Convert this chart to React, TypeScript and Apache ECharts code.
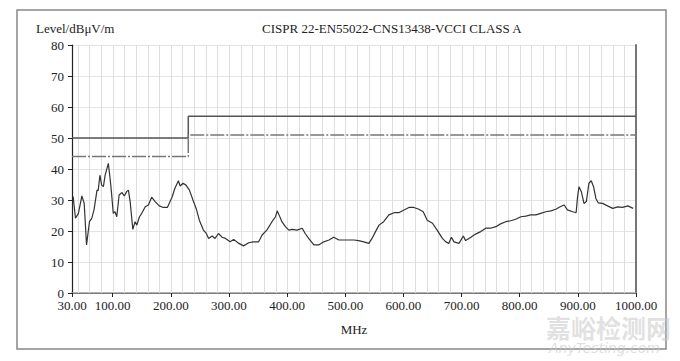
import React, { useEffect, useRef } from "react";
import * as echarts from "echarts";

const freqs = [
  32, 36, 41, 47, 51, 55, 60, 64, 68, 73, 75, 78, 81, 84, 87, 92.5, 95.5, 98, 101, 104, 107, 111, 116, 120, 124, 127, 130,
  134.6, 138.5, 141.5, 146, 150, 156, 161.5, 167, 173, 180, 187, 194, 202, 207, 213, 216, 221, 226, 232, 238, 244, 249,
  256, 261, 265, 271, 276, 282, 288, 294, 302, 308, 317, 325, 334, 342, 351, 357, 365, 374, 380, 383, 387, 391, 397,
  403, 408.5, 417, 426, 431, 437, 446, 454, 463, 472, 480, 489, 497, 506, 515, 523, 532, 540.5, 546, 552, 558, 566, 575,
  584, 592, 601, 609.5, 618, 626.6, 634, 641, 650, 658, 667, 673, 678, 682.5, 687, 695.6, 703, 707, 716, 724, 733, 741.6,
  750, 759, 767, 776, 784.6, 793, 802, 810.5, 819, 827.7, 836, 845, 853.6, 862, 869.6, 876.5, 882, 891, 897, 899.5, 902,
  906, 910.5, 914.6, 919, 923, 927, 931, 935, 942.5, 951, 960, 968.5, 977, 986, 995,
];
const levels = [
  31.1, 24.1, 25.7, 31.3, 28.9, 15.5, 23, 24.1, 27, 33.2, 33, 38, 34.8, 34.3, 38, 41.8, 37, 32.2, 25.7, 26.2, 24.6, 31.6,
  32.4, 31.3, 32.7, 33.2, 29.5, 20.5, 23, 21.9, 24.6, 25.7, 27.8, 28.4, 30.9, 29.5, 28.1, 27.6, 27.6, 30.9, 33.8, 36.2,
  34.5, 35.4, 34.8, 33.2, 30, 27, 23.5, 20.3, 19.2, 17.6, 18.4, 17.6, 19.2, 18, 17.6, 16.5, 17.3, 16, 15.2, 16.2, 16.5,
  16.5, 18.7, 20.3, 23, 24.6, 26.5, 24.8, 23, 21.4, 20.3, 20.5, 20.3, 20.9, 19.2, 17.6, 15.5, 15.5, 16.5, 17.1, 18, 17.1,
  17.1, 17.1, 17.1, 16.9, 16.5, 16, 17.6, 19.8, 21.9, 23, 25.2, 25.9, 25.9, 26.8, 27.6, 27.6, 27, 26.2, 23.5, 22.5, 20.3,
  17.6, 16.5, 16, 18, 16.5, 16, 18.4, 16.9, 18, 19, 19.8, 20.9, 20.9, 21.4, 22.3, 23, 23.3, 23.8, 24.6, 24.8, 25.2, 25.2,
  25.7, 26.2, 26.5, 27, 27.8, 28.4, 26.8, 26.2, 25.9, 31.1, 34.3, 32.7, 28.9, 29.5, 35.4, 36.2, 34.3, 30.5, 29.1, 28.9,
  28.1, 27.3, 27.8, 27.6, 28.1, 27.3,
];

const limitFreqs = [30, 230, 230, 1000];
const limitSolid = [50, 50, 57, 57];
const limitDashed = [44, 44, 51, 51];

const xTickLabels = [30, 100, 200, 300, 400, 500, 600, 700, 800, 900, 1000];
const xGridValues: number[] = [];
for (let v = 40; v < 1000; v += 20) xGridValues.push(v);

const FONT = "'Liberation Serif', 'Times New Roman', serif";

export default function App() {
  const ref = useRef<HTMLDivElement>(null);
  useEffect(() => {
    if (!ref.current) return;
    const chart = echarts.init(ref.current, null, { renderer: "svg" });
    chart.setOption({
      animation: false,
      backgroundColor: "#ffffff",
      title: [
        {
          text: "Level/dBμV/m",
          left: 31,
          top: 17,
          textStyle: { fontFamily: FONT, fontSize: 13, fontWeight: "normal", color: "#222" },
        },
        {
          text: "CISPR 22-EN55022-CNS13438-VCCI CLASS A",
          left: 257,
          top: 17,
          textStyle: { fontFamily: FONT, fontSize: 13, fontWeight: "normal", color: "#222" },
        },
      ],
      grid: { left: 72, right: 44, top: 45, bottom: 68 },
      xAxis: [
        {
          type: "value",
          min: 30,
          max: 1000,
          name: "MHz",
          nameLocation: "middle",
          nameGap: 30,
          nameTextStyle: { fontFamily: FONT, fontSize: 13, color: "#222" },
          axisLine: { show: true, lineStyle: { color: "#222", width: 1.2 } },
          axisTick: { show: true, length: 4, customValues: xTickLabels, lineStyle: { color: "#222" } },
          axisLabel: {
            customValues: xTickLabels,
            formatter: (v: number) => v.toFixed(2),
            fontFamily: FONT,
            fontSize: 13,
            color: "#222",
            margin: 6,
          },
          splitLine: { show: false },
        },
        {
          type: "value",
          min: 30,
          max: 1000,
          position: "top",
          axisLine: { show: true, lineStyle: { color: "#999", width: 1.5 } },
          axisTick: { show: false },
          axisLabel: { show: false },
          splitLine: { show: false },
        },
      ],
      yAxis: [
        {
          type: "value",
          min: 0,
          max: 80,
          interval: 10,
          axisLine: { show: true, lineStyle: { color: "#222", width: 1.2 } },
          axisTick: { show: true, length: 4, lineStyle: { color: "#222" } },
          axisLabel: { fontFamily: FONT, fontSize: 13, color: "#222", margin: 8 },
          splitLine: { show: true, lineStyle: { color: "#e4e4e4", width: 1 } },
        },
        {
          type: "value",
          min: 0,
          max: 80,
          interval: 10,
          position: "right",
          axisLine: { show: true, lineStyle: { color: "#777", width: 2 } },
          axisTick: { show: false },
          axisLabel: { show: false },
          splitLine: { show: false },
        },
      ],
      series: [
        {
          type: "custom",
          xAxisIndex: 0,
          yAxisIndex: 0,
          data: xGridValues.map((v) => [v, 0]),
          renderItem: (_params: any, api: any) => {
            const x = api.value(0);
            const p0 = api.coord([x, 0]);
            const p1 = api.coord([x, 80]);
            const px = Math.round(p0[0]) + 0.5;
            return {
              type: "line",
              shape: { x1: px, y1: p0[1], x2: px, y2: p1[1] },
              style: { stroke: "#dedede", lineWidth: 1 },
            };
          },
        },
        {
          type: "line",
          xAxisIndex: 0,
          yAxisIndex: 0,
          data: limitFreqs.map((f, i) => [f, limitSolid[i]]),
          symbol: "none",
          lineStyle: { color: "#555", width: 1.5 },
          silent: true,
          z: 3,
        },
        {
          type: "line",
          xAxisIndex: 0,
          yAxisIndex: 0,
          data: limitFreqs.map((f, i) => [f, limitDashed[i]]),
          symbol: "none",
          lineStyle: { color: "#777", width: 1.5, type: [14, 2, 2, 2] },
          silent: true,
          z: 3,
        },
        {
          type: "line",
          xAxisIndex: 0,
          yAxisIndex: 0,
          data: freqs.map((f, i) => [f, levels[i]]),
          symbol: "none",
          lineStyle: { color: "#333", width: 1.2 },
          silent: true,
          z: 4,
        },
      ],
      graphic: [
        {
          type: "rect",
          shape: { x: 17, y: 10, width: 649, height: 339 },
          style: { fill: "none", stroke: "#888", lineWidth: 1.5 },
          silent: true,
        },
        {
          type: "text",
          x: 546,
          y: 314,
          style: {
            text: "嘉峪检测网",
            font: "bold 25px 'Noto Sans CJK SC', sans-serif",
            fill: "rgba(200,200,200,0.55)",
          },
          silent: true,
          z: 10,
        },
        {
          type: "text",
          x: 549,
          y: 341,
          style: {
            text: "AnyTesting.com",
            font: "italic 14px 'DejaVu Sans', sans-serif",
            fill: "rgba(200,200,200,0.6)",
          },
          silent: true,
          z: 10,
        },
      ],
    });
    return () => chart.dispose();
  }, []);
  return <div ref={ref} style={{ width: 680, height: 361, position: "absolute", left: 0, top: 0 }} />;
}
